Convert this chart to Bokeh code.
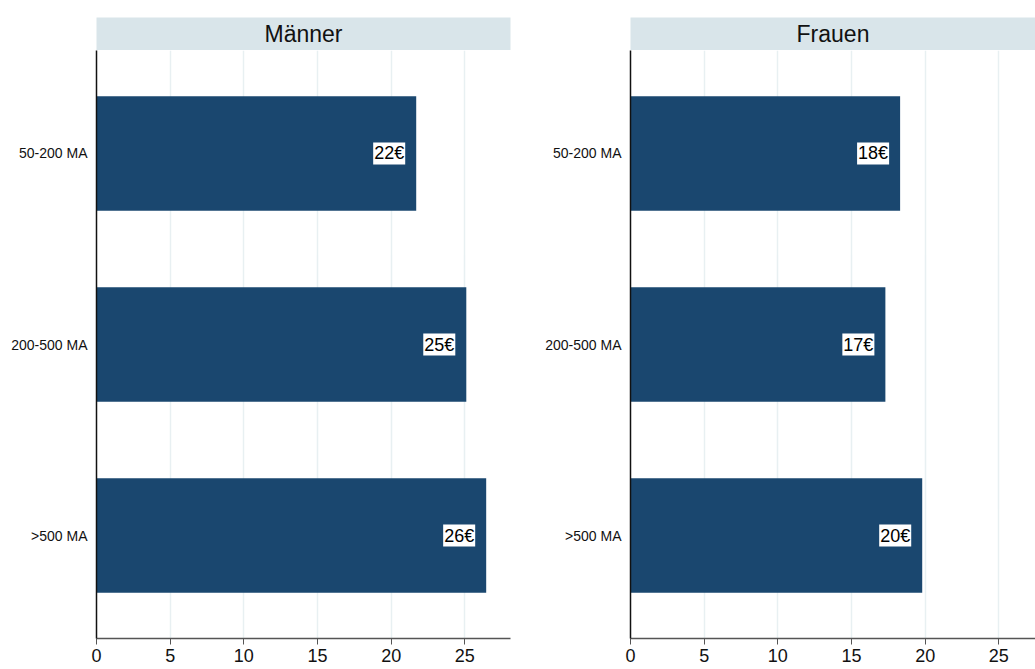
from bokeh.plotting import figure
from bokeh.layouts import row, column
from bokeh.models import Range1d, FactorRange, FixedTicker, ColumnDataSource
from bokeh.core.properties import value
from bokeh.embed import file_html
from bokeh.resources import INLINE

# ---- data ----
categories = ["50-200 MA", "200-500 MA", ">500 MA"]
maenner = [21.7, 25.1, 26.45]
frauen = [18.3, 17.3, 19.8]
panel_titles = ["Männer", "Frauen"]
x_ticks = [0, 5, 10, 15, 20, 25]

FONT = "Liberation Sans"
BAR = "#1a476f"
STRIP = "#d9e5ea"
GRID = "#e8f0f2"

PX_PER_UNIT = 414 / 28.1


def panel(title, vals, width, left_border, right_border):
    plot_w = width - left_border - right_border
    xmax = plot_w / PX_PER_UNIT

    strip = figure(width=width, height=50, x_range=Range1d(0, 1), y_range=Range1d(0, 1),
                   x_axis_type=None, y_axis_type=None, toolbar_location=None,
                   output_backend="svg", min_border_left=left_border,
                   min_border_right=right_border, min_border_top=17, min_border_bottom=0)
    strip.background_fill_color = STRIP
    strip.outline_line_color = None
    strip.grid.visible = False
    strip.text(x=[0.5], y=[0.5], text=[title], text_align="center", text_baseline="middle",
               text_font=value(FONT), text_font_size="23px", text_color="#111111")

    src = ColumnDataSource(dict(cat=categories, val=vals,
                                lab=[f"{v:.0f}€" for v in vals]))
    p = figure(width=width, height=619, x_range=Range1d(0, xmax),
               y_range=FactorRange(factors=list(reversed(categories)), range_padding=0.026),
               toolbar_location=None, output_backend="svg",
               min_border_left=left_border, min_border_right=right_border,
               min_border_top=0, min_border_bottom=31)
    p.outline_line_color = None
    p.hbar(y="cat", left=0, right="val", height=0.6, source=src,
           fill_color=BAR, line_color=None)
    p.text(x="val", y="cat", text="lab", source=src, text_align="right",
           text_baseline="middle", x_offset=-11, text_font=value(FONT),
           text_font_size="18px", text_color="black",
           background_fill_color="white", padding=1)

    p.ygrid.visible = False
    p.xgrid.grid_line_color = GRID
    p.xgrid.grid_line_width = 1.5
    p.xgrid.ticker = FixedTicker(ticks=x_ticks)

    xa = p.xaxis[0]
    xa.ticker = FixedTicker(ticks=x_ticks)
    xa.axis_line_color = "#555555"
    xa.axis_line_width = 1.5
    xa.major_tick_line_color = "#555555"
    xa.major_tick_out = 6
    xa.major_tick_in = 0
    xa.minor_tick_line_color = None
    xa.major_label_text_font = FONT
    xa.major_label_text_font_size = "18px"
    xa.major_label_text_color = "#111111"
    xa.major_label_standoff = 4

    ya = p.yaxis[0]
    ya.axis_line_color = "#111111"
    ya.axis_line_width = 1.5
    ya.major_tick_line_color = None
    ya.minor_tick_line_color = None
    ya.major_label_text_font = FONT
    ya.major_label_text_font_size = "14px"
    ya.major_label_text_color = "#111111"
    ya.major_label_standoff = 3

    return column(strip, p)


left = panel(panel_titles[0], maenner, 520, 96, 10)
right = panel(panel_titles[1], frauen, 515, 110, 0)
layout = row(left, right)

open("out.html", "w").write(file_html(layout, INLINE))
